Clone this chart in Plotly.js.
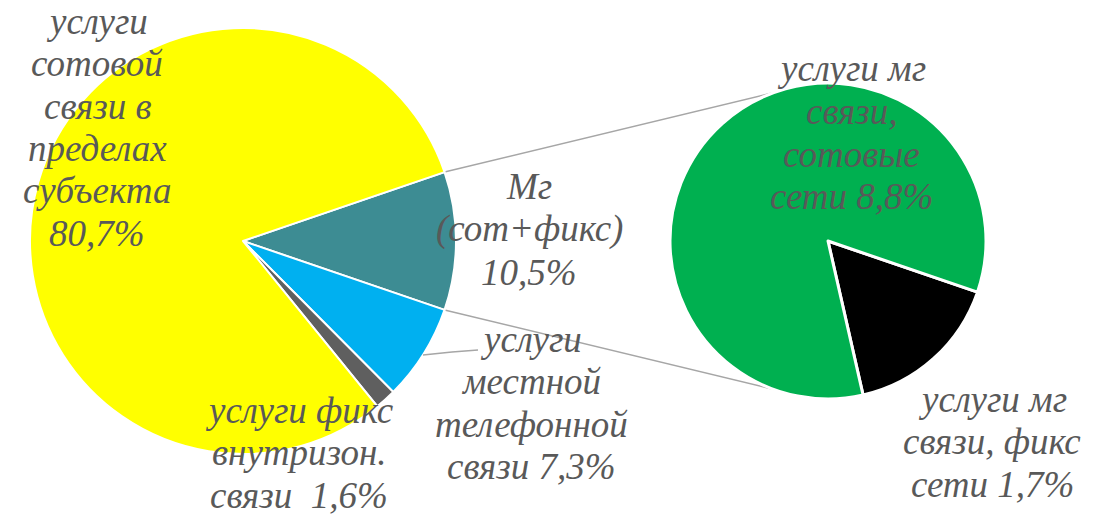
<!DOCTYPE html>
<html>
<head>
<meta charset="utf-8">
<script src="https://cdn.plot.ly/plotly-3.0.1.min.js"></script>
<style>html,body{margin:0;padding:0;background:#fff;}#chart{width:1099px;height:517px;}</style>
</head>
<body>
<div id="chart"></div>
<script>
// ---- data ----
const mainLabels = ["Мг (сот+фикс)", "услуги местной телефонной связи", "услуги фикс внутризон. связи", "услуги сотовой связи в пределах субъекта"];
const mainValues = [10.5, 7.3, 1.6, 80.7];
const mainColors = ["#3D8C93", "#00B0F0", "#5F5F5F", "#FFFF00"];
const mainTextLines = [
  ["Мг", "(сот+фикс)", "10,5%"],
  ["услуги", "местной", "телефонной", "связи 7,3%"],
  ["услуги фикс", "внутризон.", "связи  1,6%"],
  ["услуги", "сотовой", "связи в", "пределах", "субъекта", "80,7%"]
];

const subLabels = ["услуги мг связи, фикс сети", "услуги мг связи, сотовые сети"];
const subValues = [1.7, 8.8];
const subColors = ["#000000", "#00B050"];
const subTextLines = [
  ["услуги мг", "связи, фикс", "сети 1,7%"],
  ["услуги мг", "связи,", "сотовые", "сети 8,8%"]
];

// ---- layout geometry (pixels) ----
const W = 1099, H = 517;
const L = {cx: 243, cy: 241, r: 213};
const R = {cx: 828, cy: 241, r: 158};
const px = x => x / W, py = y => 1 - y / H;
function dom(p) { return {x: [px(p.cx - p.r), px(p.cx + p.r)], y: [py(p.cy + p.r), py(p.cy - p.r)]}; }

const mainTotal = mainValues.reduce((a, b) => a + b, 0);
const halfSplit = 180 * mainValues[0] / mainTotal; // degrees

const traces = [
  {type: "pie", labels: mainLabels, values: mainValues, sort: false, direction: "clockwise",
   rotation: 90 - halfSplit, marker: {colors: mainColors, line: {color: "#FFFFFF", width: 2}},
   textinfo: "none", hoverinfo: "label+percent", domain: dom(L), showlegend: false},
  {type: "pie", labels: subLabels, values: subValues, sort: false, direction: "clockwise",
   rotation: 90 + halfSplit, marker: {colors: subColors, line: {color: "#FFFFFF", width: 3}},
   textinfo: "none", hoverinfo: "label+percent", domain: dom(R), showlegend: false}
];

// connector lines
const rad = d => d * Math.PI / 180;
const lt = {x: L.cx + L.r * Math.cos(rad(halfSplit)), y: L.cy - L.r * Math.sin(rad(halfSplit))};
const lb = {x: L.cx + L.r * Math.cos(rad(halfSplit)), y: L.cy + L.r * Math.sin(rad(halfSplit))};
const connAng = 110;
const rt = {x: R.cx + R.r * Math.cos(rad(connAng)), y: R.cy - R.r * Math.sin(rad(connAng))};
const rb = {x: R.cx + R.r * Math.cos(rad(connAng)), y: R.cy + R.r * Math.sin(rad(connAng))};
const lineStyle = {color: "#A6A6A6", width: 1.5};
const shapes = [
  {type: "line", xref: "paper", yref: "paper", x0: px(lt.x), y0: py(lt.y), x1: px(rt.x), y1: py(rt.y), line: lineStyle, layer: "below"},
  {type: "line", xref: "paper", yref: "paper", x0: px(lb.x), y0: py(lb.y), x1: px(rb.x), y1: py(rb.y), line: lineStyle, layer: "below"},
  {type: "path", xref: "paper", yref: "paper", path: "M " + px(423) + "," + py(355) + " L " + px(452) + "," + py(352) + " L " + px(478) + "," + py(350), line: lineStyle}
];

// labels: one annotation per line so the line spacing matches
const fontSize = 37, lineGap = 42.5, baseToMid = 13;
const font = {family: "Liberation Serif", size: fontSize, color: "#595959", style: "italic"};
// [centre x, first baseline y]
const mainPos = [[529, 200], [531, 352], [299, 423], [97, 34]];
const subPos = [[992, 412], [851, 82]];
const annotations = [];
function addLabel(lines, pos) {
  lines.forEach((t, j) => annotations.push({text: t, xref: "paper", yref: "paper",
    x: px(pos[0]), y: py(pos[1] + j * lineGap - baseToMid), xanchor: "center", yanchor: "middle",
    showarrow: false, align: "center", font: font, borderpad: 0}));
}
mainTextLines.forEach((l, i) => addLabel(l, mainPos[i]));
subTextLines.forEach((l, i) => addLabel(l, subPos[i]));

const layout = {width: W, height: H, margin: {l: 0, r: 0, t: 0, b: 0}, paper_bgcolor: "#FFFFFF",
  plot_bgcolor: "#FFFFFF", showlegend: false, shapes: shapes, annotations: annotations};
Plotly.newPlot("chart", traces, layout, {displayModeBar: false, staticPlot: true});
</script>
</body>
</html>
